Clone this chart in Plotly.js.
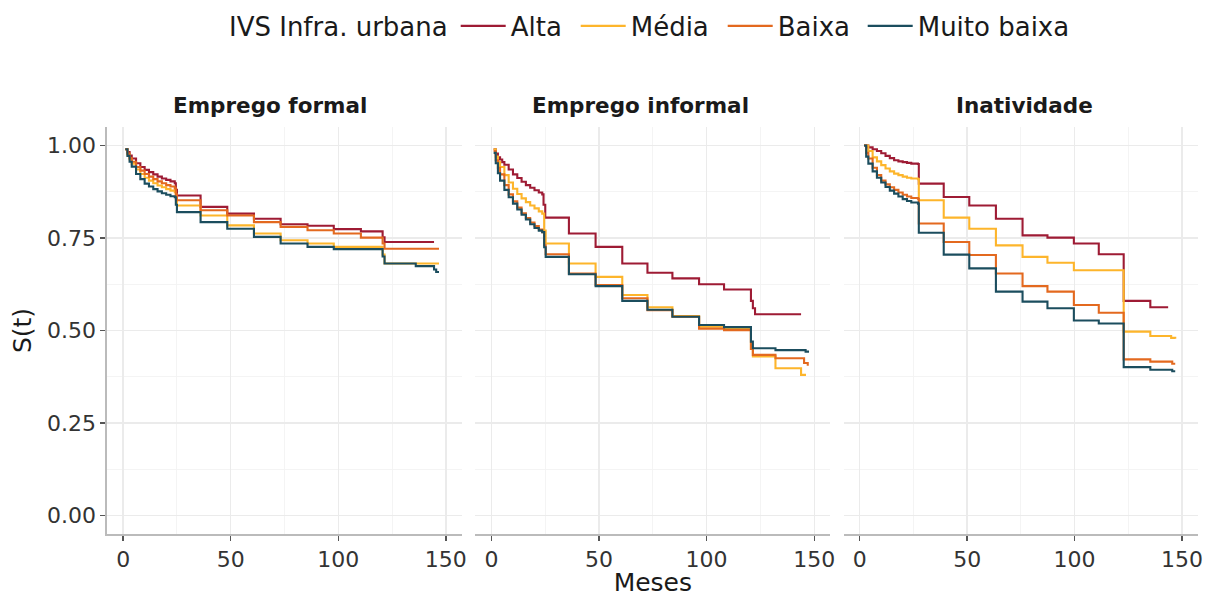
<!DOCTYPE html>
<html>
<head>
<meta charset="utf-8">
<script src="https://cdn.plot.ly/plotly-3.0.1.min.js"></script>
<style>html,body{margin:0;padding:0;background:#fff;}#chart{width:1212px;height:597px;}</style>
</head>
<body>
<div id="chart"></div>
<script>
// ---- categories / labels ----
const panels = ["Emprego formal", "Emprego informal", "Inatividade"];
const groups = ["Alta", "Média", "Baixa", "Muito baixa"];
const groupColors = ["#9E1B34", "#FDB52B", "#E3691F", "#1B4D5E"];
const legendTitle = "IVS Infra. urbana";
const xTitle = "Meses";
const yTitle = "S(t)";
const xTickVals = [0, 50, 100, 150];
const yTickVals = [0, 0.25, 0.5, 0.75, 1];
const yTickText = ["0.00", "0.25", "0.50", "0.75", "1.00"];

// ---- Emprego formal ----
const formalAltaT = [1,2,3,4,6,8,10,12,14,16,18,20,22,24,24.5,25,36,48.4,60.8,73.2,85.7,97.9,110.5,120.6,121.5,144.5];
const formalAltaS = [0.99,0.982,0.973,0.965,0.952,0.942,0.934,0.928,0.922,0.916,0.911,0.907,0.903,0.898,0.88,0.865,0.834,0.816,0.802,0.787,0.783,0.774,0.768,0.752,0.739,0.739];
const formalMediaT = [1,2,3,4,6,8,10,12,14,16,18,20,22,24,24.5,25,36,48.4,60.8,73.2,85.7,97.9,120.6,121.5,146.8];
const formalMediaS = [0.99,0.975,0.962,0.951,0.935,0.923,0.913,0.905,0.898,0.892,0.887,0.882,0.878,0.874,0.855,0.838,0.811,0.784,0.762,0.744,0.735,0.726,0.705,0.681,0.681];
const formalBaixaT = [1,2,3,4,6,8,10,12,14,16,18,20,22,24,24.5,25,36,48.4,60.8,73.2,85.7,97.9,110.5,120.6,121.5,146.8];
const formalBaixaS = [0.99,0.978,0.966,0.956,0.942,0.932,0.923,0.916,0.909,0.903,0.898,0.893,0.889,0.884,0.868,0.852,0.825,0.811,0.793,0.78,0.771,0.762,0.751,0.735,0.721,0.721];
const formalMBaixaT = [1,2,3,4,6,8,10,12,14,16,18,20,22,24,24.5,25,36,48.4,60.8,73.2,85.7,97.9,120.6,121.5,136,144.5,145.5,146.8];
const formalMBaixaS = [0.99,0.972,0.956,0.943,0.923,0.909,0.897,0.889,0.882,0.876,0.871,0.867,0.863,0.86,0.84,0.82,0.793,0.775,0.753,0.735,0.726,0.72,0.70,0.681,0.674,0.665,0.658,0.658];

// ---- Emprego informal ----
const informalAltaT = [1,2,3,4,5,6,8,10,12,14,16,18,20,22,23.6,24.2,25,36,48.4,60.8,72.5,84.1,96.5,108.1,120.6,121.5,122.5,143.9];
const informalAltaS = [0.99,0.978,0.968,0.962,0.955,0.948,0.935,0.922,0.912,0.902,0.893,0.886,0.879,0.873,0.868,0.84,0.805,0.762,0.726,0.681,0.656,0.641,0.625,0.611,0.58,0.56,0.544,0.544];
const informalMediaT = [1,2,3,4,6,8,10,12,14,16,18,20,22,23.6,24.5,25.2,36,48.4,60.8,72.5,84.1,96.5,108.1,120.6,121.5,132,143.9,146.2];
const informalMediaS = [0.99,0.97,0.955,0.942,0.92,0.90,0.883,0.869,0.857,0.847,0.838,0.83,0.822,0.816,0.77,0.735,0.681,0.645,0.596,0.563,0.539,0.51,0.505,0.45,0.43,0.398,0.38,0.38];
const informalBaixaT = [1,2,3,4,6,8,10,12,14,16,18,20,22,23.6,24.5,25.2,36,48.4,60.8,72.5,84.1,96.5,108.1,120.6,121.5,132,145.3,147];
const informalBaixaS = [0.985,0.96,0.94,0.922,0.893,0.868,0.849,0.832,0.817,0.804,0.792,0.782,0.773,0.766,0.73,0.706,0.654,0.623,0.587,0.555,0.537,0.505,0.501,0.45,0.434,0.425,0.412,0.405];
const informalMBaixaT = [1,2,3,4,6,8,10,12,14,16,18,20,22,23.6,24.5,25.2,36,48.4,60.8,72.5,84.1,96.5,108.1,120.6,121.5,132,146,147.6];
const informalMBaixaS = [0.98,0.952,0.925,0.905,0.88,0.86,0.843,0.827,0.813,0.80,0.787,0.777,0.77,0.766,0.725,0.699,0.652,0.62,0.58,0.556,0.537,0.515,0.509,0.47,0.452,0.447,0.443,0.443];

// ---- Inatividade ----
const inatAltaT = [2,4,6,8,10,12,14,16,18,20,22,24,27.1,27.5,39.1,51,63.4,75.8,87.4,99.7,111.3,122.9,135.3,143.6];
const inatAltaS = [1.0,0.995,0.99,0.985,0.979,0.972,0.966,0.96,0.957,0.955,0.953,0.951,0.95,0.897,0.861,0.838,0.802,0.757,0.751,0.735,0.706,0.58,0.563,0.563];
const inatMediaT = [2,4,6,8,10,12,14,16,18,20,22,24,27.1,27.5,39.1,51,63.4,75.8,87.4,99.7,122.9,135.3,145,146.9];
const inatMediaS = [1.0,0.985,0.968,0.957,0.947,0.938,0.93,0.924,0.92,0.916,0.913,0.911,0.909,0.852,0.805,0.775,0.73,0.699,0.683,0.663,0.497,0.485,0.48,0.478];
const inatBaixaT = [2,3,4,6,8,10,12,14,16,18,20,22,24,27.1,27.5,39.1,51,63.4,75.8,87.4,99.7,111.3,122.9,135.3,145.5,146.9];
const inatBaixaS = [1.0,0.98,0.965,0.94,0.92,0.905,0.895,0.887,0.88,0.873,0.867,0.862,0.858,0.856,0.789,0.739,0.704,0.654,0.62,0.605,0.569,0.548,0.422,0.416,0.41,0.41];
const inatMBaixaT = [2,3,4,6,8,10,12,14,16,18,20,22,24,27.1,27.5,39.1,51,63.4,75.8,87.4,99.7,111.3,122.9,135.3,145.5,146.9];
const inatMBaixaS = [1.0,0.97,0.951,0.93,0.913,0.90,0.888,0.878,0.87,0.862,0.855,0.85,0.846,0.843,0.764,0.705,0.668,0.605,0.578,0.56,0.527,0.519,0.401,0.394,0.39,0.39];

const seriesT = [
  [formalAltaT, formalMediaT, formalBaixaT, formalMBaixaT],
  [informalAltaT, informalMediaT, informalBaixaT, informalMBaixaT],
  [inatAltaT, inatMediaT, inatBaixaT, inatMBaixaT]
];
const seriesS = [
  [formalAltaS, formalMediaS, formalBaixaS, formalMBaixaS],
  [informalAltaS, informalMediaS, informalBaixaS, informalMBaixaS],
  [inatAltaS, inatMediaS, inatBaixaS, inatMBaixaS]
];

const FONT = "DejaVu Sans";
const legendEntryWidths = [60, 87, 80, 155];
const traces = [];
panels.forEach((p, pi) => {
  groups.forEach((g, gi) => {
    traces.push({
      type: "scatter", mode: "lines",
      x: seriesT[pi][gi], y: seriesS[pi][gi],
      name: g, legendgroup: g, showlegend: pi === 0,
      legendwidth: legendEntryWidths[gi],
      line: {color: groupColors[gi], width: 2.1, shape: "hv"},
      xaxis: pi === 0 ? "x" : "x" + (pi + 1),
      yaxis: pi === 0 ? "y" : "y" + (pi + 1),
      hoverinfo: "skip"
    });
  });
});

const domains = [[0, 0.3254], [0.3376, 0.663], [0.6752, 1]];
const stripCenters = [0.1497, 0.4888, 0.8408];
const gridCol = "#EBEBEB";
const minorGridCol = "#F3F3F3";

function xaxis(i) {
  return {
    domain: domains[i], range: [-7.5, 157.5], anchor: i === 0 ? "y" : "y" + (i + 1),
    tickvals: xTickVals, ticktext: xTickVals.map(String),
    showgrid: true, gridcolor: gridCol, gridwidth: 1.3,
    minor: {tickvals: [25, 75, 125], showgrid: true, gridcolor: minorGridCol, gridwidth: 0.9, ticks: ""},
    zeroline: false, showline: true, linecolor: "#BBBBBB", linewidth: 1.6,
    ticks: "outside", ticklen: 5, tickwidth: 1.3, tickcolor: "#555555",
    tickfont: {family: FONT, size: 22, color: "#333333"},
    fixedrange: true
  };
}
function yaxis(i) {
  const a = {
    domain: [0, 1], range: [-0.05, 1.05], anchor: i === 0 ? "x" : "x" + (i + 1),
    tickvals: yTickVals, ticktext: yTickText,
    showgrid: true, gridcolor: gridCol, gridwidth: 1.3,
    minor: {tickvals: [0.125, 0.375, 0.625, 0.875], showgrid: true, gridcolor: minorGridCol, gridwidth: 0.9, ticks: ""},
    zeroline: false, fixedrange: true,
    tickfont: {family: FONT, size: 22, color: "#333333"}
  };
  if (i === 0) {
    Object.assign(a, {showline: true, linecolor: "#BBBBBB", linewidth: 1.6,
      ticks: "outside", ticklen: 5, tickwidth: 1.3, tickcolor: "#555555",
      title: {text: yTitle, font: {family: FONT, size: 25, color: "#1A1A1A"}, standoff: 8}});
  } else {
    Object.assign(a, {showline: false, ticks: "", showticklabels: false});
  }
  return a;
}

const layout = {
  width: 1212, height: 597,
  margin: {l: 107, r: 14, t: 127, b: 63},
  paper_bgcolor: "#ffffff", plot_bgcolor: "#ffffff",
  font: {family: FONT, color: "#1A1A1A"},
  showlegend: true,
  legend: {
    orientation: "h", xref: "container", yref: "container",
    x: 227 / 1212, xanchor: "left", y: 1 - 26 / 597, yanchor: "middle",
    font: {family: FONT, size: 26, color: "#1A1A1A"},
    title: {text: legendTitle, side: "left", font: {family: FONT, size: 26, color: "#1A1A1A"}},
    bgcolor: "rgba(0,0,0,0)", itemwidth: 45
  },
  xaxis: xaxis(0), xaxis2: xaxis(1), xaxis3: xaxis(2),
  yaxis: yaxis(0), yaxis2: yaxis(1), yaxis3: yaxis(2),
  annotations: panels.map((p, i) => ({
    text: "<b>" + p + "</b>", xref: "paper", yref: "paper",
    x: stripCenters[i], y: 1.0528, xanchor: "center", yanchor: "middle",
    showarrow: false, font: {family: FONT, size: 21.5, color: "#1A1A1A"}
  }))
};
layout.xaxis2.title = {text: xTitle, font: {family: FONT, size: 25, color: "#1A1A1A"}, standoff: 6};

Plotly.newPlot("chart", traces, layout, {displayModeBar: false, staticPlot: true});
</script>
</body>
</html>
